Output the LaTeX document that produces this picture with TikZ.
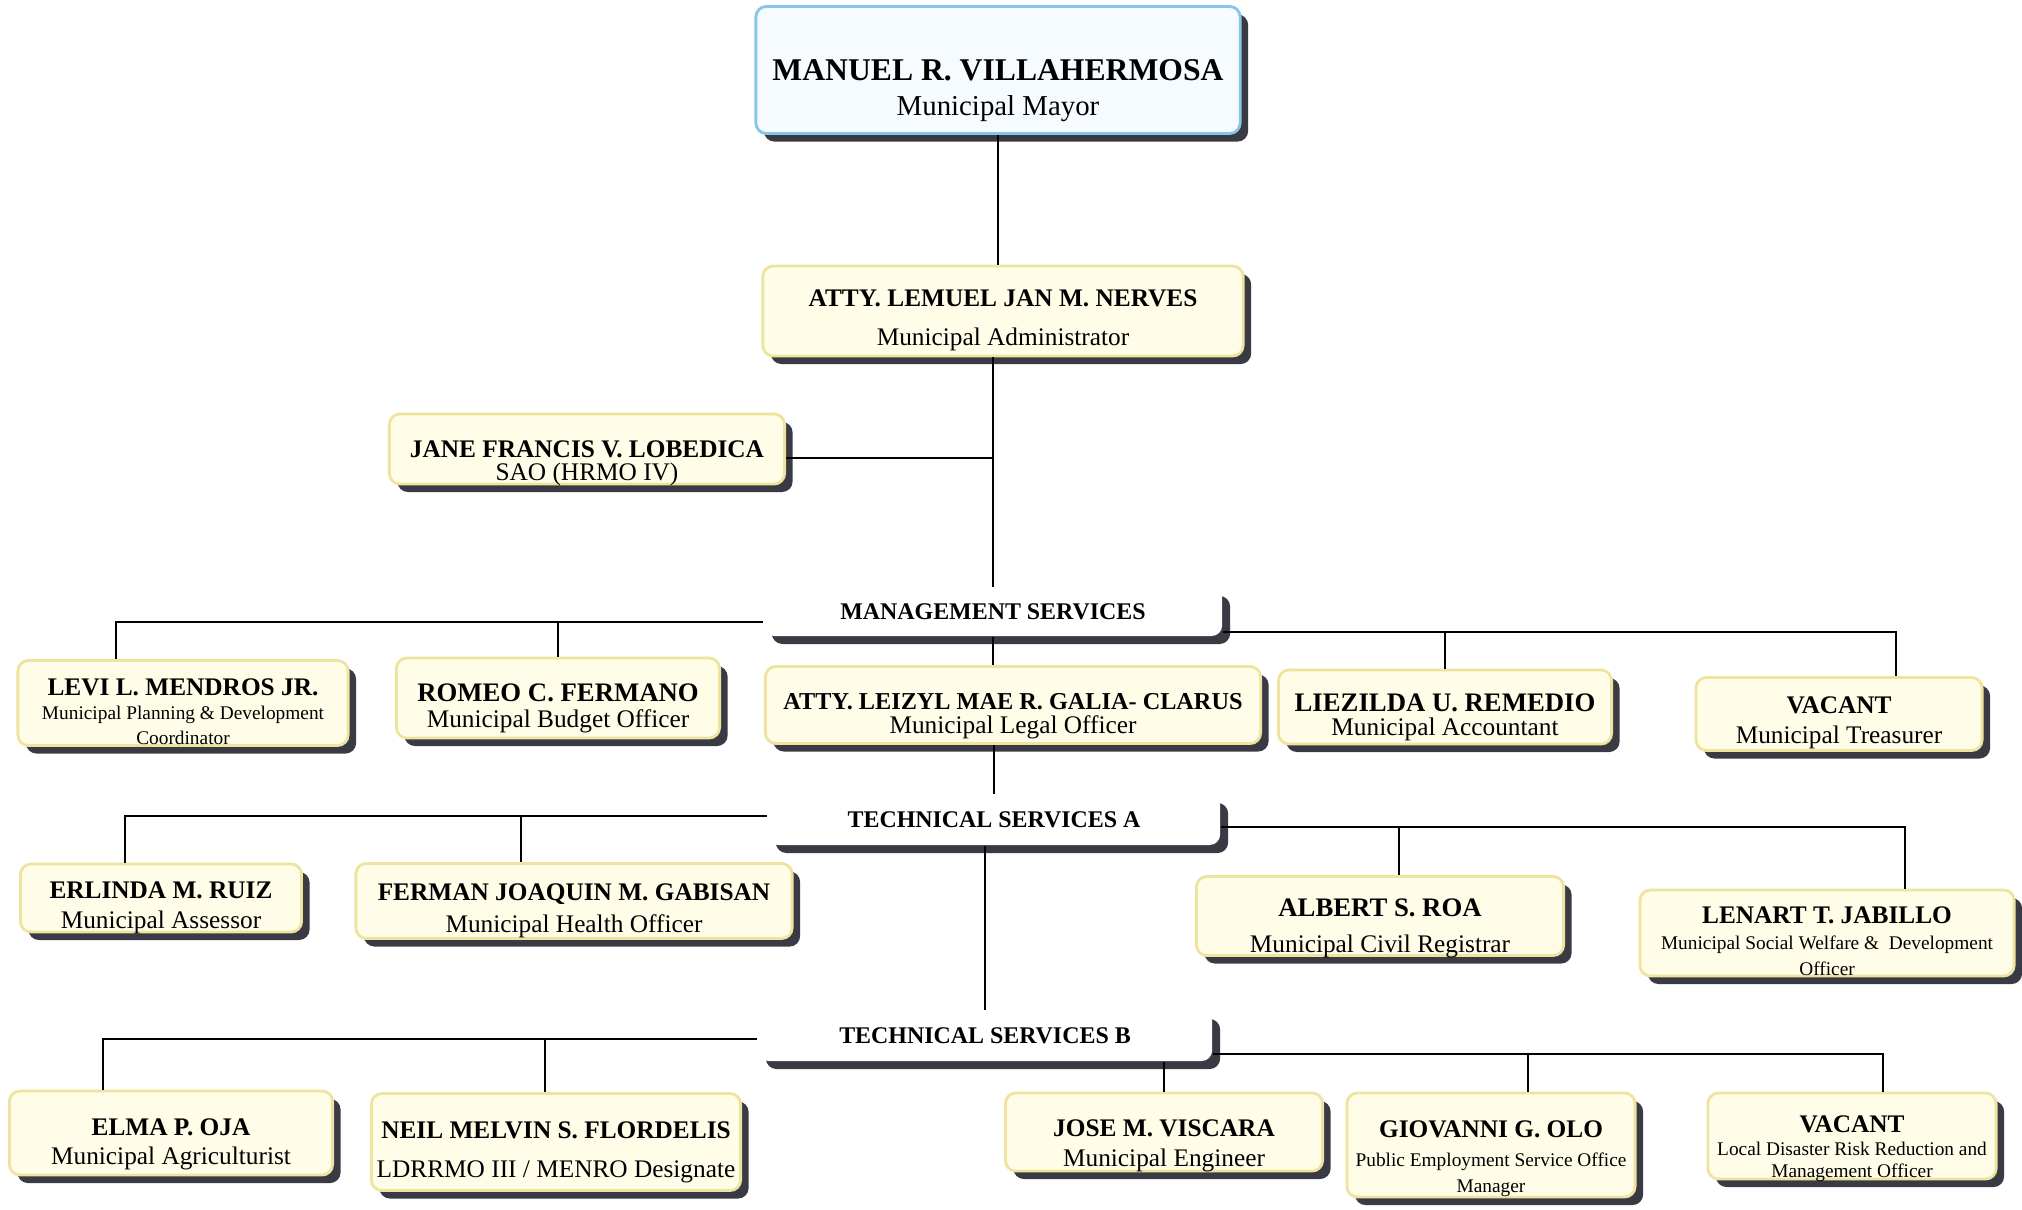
\documentclass[tikz,border=0pt]{standalone}
\usepackage{fontspec}
\setmainfont{Liberation Serif}
\usetikzlibrary{shadows, calc}

\definecolor{boxfill}{RGB}{255,253,232}
\definecolor{boxline}{RGB}{238,228,160}
\definecolor{topfill}{RGB}{246,251,255}
\definecolor{topline}{RGB}{135,198,232}
\definecolor{shadowgray}{RGB}{58,58,68}
\newcommand{\subsmall}{\fontsize{5.5}{7}\selectfont}
% text of a box, set a little low as in the scan
\newcommand{\cardtext}[2][3.3pt]{\raisebox{-#1}[\height][\depth]{\begin{tabular}{@{}c@{}}#2\end{tabular}}}

\begin{document}
\begin{tikzpicture}[x=0.01cm, y=-0.01cm, line width=0.6pt,
    post/.style={draw=boxline, line width=0.8pt, fill=boxfill, rounded corners=3pt,
        inner sep=1pt, font=\fontsize{7.2}{7.4}\selectfont,
        drop shadow={shadow xshift=0.8mm, shadow yshift=-0.8mm, fill=shadowgray, opacity=1}},
    head/.style={fill=white, rounded corners=3pt, font=\fontsize{6.8}{8}\selectfont\bfseries,
        drop shadow={shadow xshift=0.8mm, shadow yshift=-0.8mm, fill=shadowgray, opacity=1}}]
    \useasboundingbox (0,0) rectangle (2022,1209);

    % mayor and administrator
    \node[post, draw=topline, fill=topfill, minimum width=4.84cm, minimum height=1.27cm,
        font=\fontsize{8.2}{9.9}\selectfont] (mayor) at (998,70)
        {\cardtext[6pt]{{\fontsize{9}{10}\selectfont\bfseries MANUEL R. VILLAHERMOSA}\\Municipal Mayor}};
    \node[post, minimum width=4.80cm, minimum height=0.90cm] (admin) at (1003,311)
        {\cardtext[2.7pt]{\textbf{ATTY. LEMUEL JAN M. NERVES}\\[3.6pt]Municipal Administrator}};
    \node[post, minimum width=3.95cm, minimum height=0.70cm] (jane) at (587,449)
        {\cardtext[4.2pt]{\textbf{JANE FRANCIS V. LOBEDICA}\\[-1pt]SAO (HRMO IV)}};

    % management services
    \node[head, minimum width=4.58cm, minimum height=0.48cm] (ms) at (993,612) {MANAGEMENT SERVICES};
    \node[post, minimum width=3.30cm, minimum height=0.85cm] (levi) at (183,703)
        {\cardtext{\textbf{LEVI L. MENDROS JR.}\\[-0.5pt]\subsmall Municipal Planning \& Development\\[-0.5pt]\subsmall Coordinator}};
    \node[post, minimum width=3.23cm, minimum height=0.80cm] (romeo) at (558,698)
        {\cardtext{{\fontsize{7.6}{8}\selectfont\bfseries ROMEO C. FERMANO}\\Municipal Budget Officer}};
    \node[post, minimum width=4.95cm, minimum height=0.77cm] (legal) at (1013,705)
        {\cardtext{{\fontsize{6.9}{8}\selectfont\bfseries ATTY. LEIZYL MAE R. GALIA- CLARUS}\\[-0.5pt]Municipal Legal Officer}};
    \node[post, minimum width=3.33cm, minimum height=0.74cm] (liez) at (1445,707)
        {\cardtext{{\fontsize{7.6}{8}\selectfont\bfseries LIEZILDA U. REMEDIO}\\[-0.5pt]Municipal Accountant}};
    \node[post, minimum width=2.86cm, minimum height=0.73cm] (treas) at (1839,714)
        {\cardtext[2.7pt]{\textbf{VACANT}\\[1pt]Municipal Treasurer}};

    % technical services a
    \node[head, minimum width=4.52cm, minimum height=0.50cm] (tsa) at (994,820) {TECHNICAL SERVICES A};
    \node[post, minimum width=2.81cm, minimum height=0.68cm] (ruiz) at (161,898)
        {\cardtext[2.9pt]{\textbf{ERLINDA M. RUIZ}\\[1pt]Municipal Assessor}};
    \node[post, minimum width=4.36cm, minimum height=0.75cm] (ferman) at (574,901)
        {\cardtext[2.9pt]{\textbf{FERMAN JOAQUIN M. GABISAN}\\[1.7pt]Municipal Health Officer}};
    \node[post, minimum width=3.67cm, minimum height=0.79cm] (albert) at (1380,916)
        {\cardtext[3.8pt]{{\fontsize{7.6}{8}\selectfont\bfseries ALBERT S. ROA}\\[2.8pt]Municipal Civil Registrar}};
    \node[post, minimum width=3.74cm, minimum height=0.86cm] (lenart) at (1827,933)
        {\cardtext{\textbf{LENART T. JABILLO}\\\subsmall Municipal Social Welfare \&\ \ Development\\\subsmall Officer}};

    % technical services b
    \node[head, minimum width=4.54cm, minimum height=0.50cm] (tsb) at (985,1036) {TECHNICAL SERVICES B};
    \node[post, minimum width=3.23cm, minimum height=0.84cm] (elma) at (171,1133)
        {\cardtext{\textbf{ELMA P. OJA}\\[1pt]Municipal Agriculturist}};
    \node[post, minimum width=3.69cm, minimum height=0.97cm] (neil) at (556,1142)
        {\cardtext[3.1pt]{\textbf{NEIL MELVIN S. FLORDELIS}\\[3.6pt]LDRRMO III / MENRO Designate}};
    \node[post, minimum width=3.17cm, minimum height=0.78cm] (jose) at (1164,1132)
        {\cardtext[4pt]{\textbf{JOSE M. VISCARA}\\[1pt]Municipal Engineer}};
    \node[post, minimum width=2.88cm, minimum height=1.04cm] (giov) at (1491,1145)
        {\cardtext[4.2pt]{\textbf{GIOVANNI G. OLO}\\[0.6pt]\subsmall Public Employment Service Office\\\subsmall Manager}};
    \node[post, minimum width=2.88cm, minimum height=0.86cm] (vacl) at (1852,1136)
        {\cardtext[4pt]{\textbf{VACANT}\\[-0.8pt]\subsmall Local Disaster Risk Reduction and\\[-1.2pt]\subsmall Management Officer}};

    % lines
    \draw (mayor.south) -- (mayor.south |- admin.north);
    \draw (ms.north) -- (ms.north |- admin.south);
    \draw ($(jane.east)+(0,9)$) -- ($(jane.east)+(206,9)$);
    \draw ($(ms.west)+(0,10)$) -| ($(levi.north)+(-67,0)$);
    \draw ($(ms.west)+(0,10)$) -| (romeo.north);
    \draw ($(ms.east)+(0,20)$) -| ($(treas.north)+(57,0)$);
    \draw ($(ms.east)+(0,20)$) -| (liez.north);
    \draw (ms.south) -- (ms.south |- legal.north);
    \draw (tsa.north) -- (tsa.north |- legal.south);
    \draw ($(tsa.west)+(0,-4)$) -| ($(ruiz.north)+(-36,0)$);
    \draw ($(tsa.west)+(0,-4)$) -| ($(ferman.north)+(-53,0)$);
    \draw ($(tsa.east)+(0,7)$) -| ($(lenart.north)+(78,0)$);
    \draw ($(tsa.east)+(0,7)$) -| ($(albert.north)+(19,0)$);
    \draw (tsb.north) -- (tsb.north |- tsa.south);
    \draw ($(tsb.west)+(0,3)$) -| ($(elma.north)+(-68,0)$);
    \draw ($(tsb.west)+(0,3)$) -| ($(neil.north)+(-11,0)$);
    \draw ($(tsb.east)+(0,18)$) -| ($(vacl.north)+(31,0)$);
    \draw ($(tsb.east)+(0,18)$) -| ($(giov.north)+(37,0)$);
    \draw (jose.north) -- (jose.north |- tsb.south);
\end{tikzpicture}
\end{document}
